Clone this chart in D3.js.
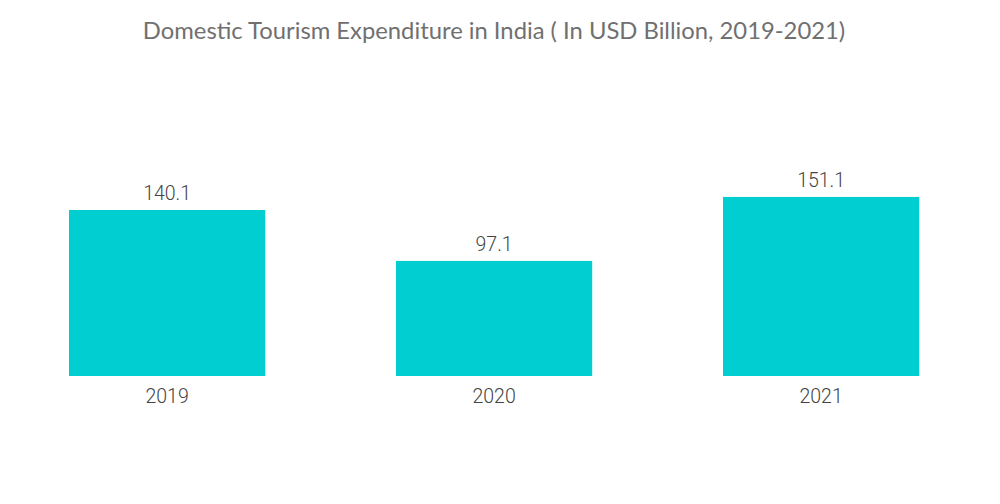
<!DOCTYPE html>
<html>
<head>
<meta charset="utf-8">
<script src="https://cdn.jsdelivr.net/npm/d3@7/dist/d3.min.js"></script>
<style>
  html, body { margin: 0; padding: 0; background: #fff; }
  svg { display: block; }
</style>
</head>
<body>
<div id="chart"></div>
<script>
const years = ['2019', '2020', '2021'];
const spend = [140.1, 97.1, 151.1];
const title = 'Domestic Tourism Expenditure in India ( In USD Billion, 2019-2021)';

const width = 1000;
const height = 504;
const barColor = '#00CED1';
const textColor = '#444';

const rows = years.map((year, i) => ({ year, value: spend[i] }));

const svg = d3.select('#chart')
  .append('svg')
  .attr('width', width)
  .attr('height', height)
  .attr('viewBox', [0, 0, width, height]);

svg.append('text')
  .attr('x', 494)
  .attr('y', 39)
  .attr('text-anchor', 'middle')
  .style('font-family', 'Lato, "Open Sans", sans-serif')
  .style('font-size', '23.8px')
  .style('fill', '#707070')
  .text(title);

// band scale tuned so bars are ~196px wide on a ~327px step
const x = d3.scaleBand()
  .domain(years)
  .range([3.6, 984.6])
  .paddingInner(0.4)
  .paddingOuter(0.2);

const y = d3.scaleLinear()
  .domain([0, 200])
  .range([376, 139]);

svg.append('g')
  .selectAll('rect')
  .data(rows)
  .join('rect')
  .attr('x', (d) => x(d.year))
  .attr('width', x.bandwidth())
  .attr('y', (d) => y(d.value))
  .attr('height', (d) => y(0) - y(d.value))
  .attr('fill', barColor);

svg.append('g')
  .selectAll('text')
  .data(rows)
  .join('text')
  .attr('x', (d) => x(d.year) + x.bandwidth() / 2)
  .attr('y', (d) => y(d.value) - 10)
  .attr('text-anchor', 'middle')
  .style('font-family', 'Roboto, sans-serif')
  .style('font-weight', 300)
  .style('font-size', '19.5px')
  .style('fill', textColor)
  .text((d) => d.value.toFixed(1));

const axisX = svg.append('g')
  .attr('transform', `translate(0,${y(0)})`)
  .call(d3.axisBottom(x).tickSize(0).tickPadding(13));
axisX.select('.domain').remove();
axisX.selectAll('text')
  .style('font-family', 'Roboto, sans-serif')
  .style('font-weight', 300)
  .style('font-size', '19.5px')
  .style('fill', textColor);
</script>
</body>
</html>
